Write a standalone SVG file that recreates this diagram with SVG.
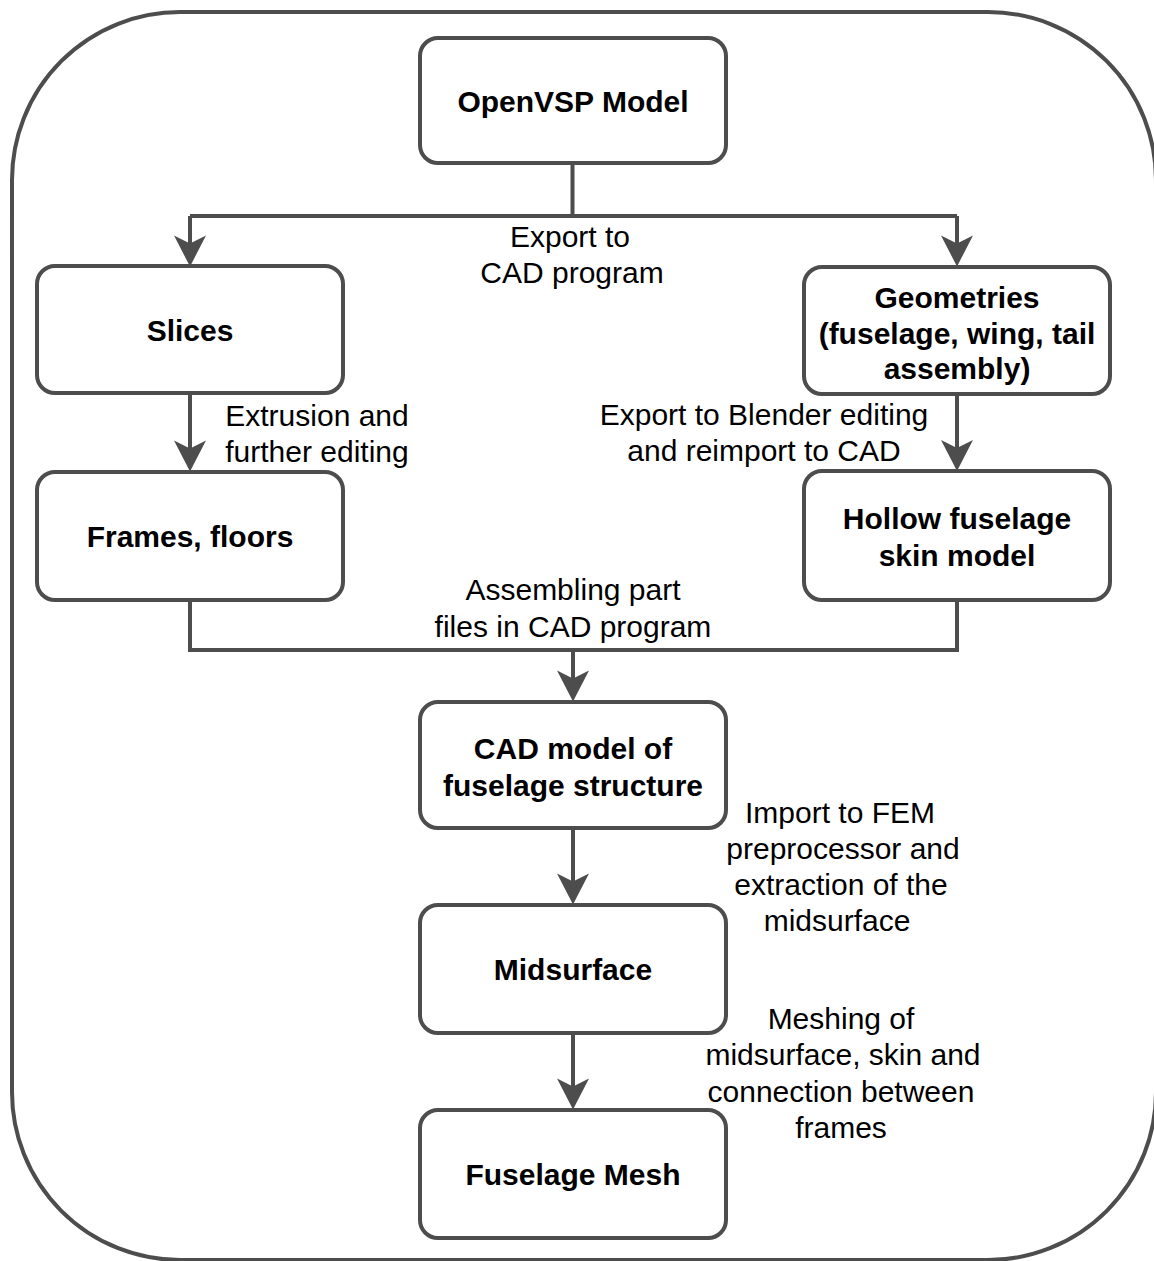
<svg xmlns="http://www.w3.org/2000/svg" xmlns:xlink="http://www.w3.org/1999/xlink" width="1154" height="1261" viewBox="0 0 1154 1261">
<style>
.frame{fill:none;stroke:#4d4d4d;stroke-width:4}
.box{fill:#ffffff;stroke:#4d4d4d;stroke-width:4}
.line{fill:none;stroke:#4d4d4d;stroke-width:4}
.head{fill:#4d4d4d;stroke:none}
.t{font-family:"Liberation Sans",Arial,Helvetica,sans-serif;font-size:30px;fill:#000000;text-anchor:middle}
.b{font-weight:bold}
</style>
<defs>
<path id="ah" class="head" d="M0,0 L-16,-31 L0,-23 L16,-31 Z"/>
</defs>
<rect width="1154" height="1261" fill="#ffffff"/>
<rect class="frame" x="12" y="12" width="1144" height="1248" rx="168" ry="168"/>

<g id="connectors">
<path class="line" d="M572.5,163 V216 M190,216 H957 M190,216 V244 M957,216 V244"/>
<use xlink:href="#ah" href="#ah" transform="translate(190,266.5)"/>
<use xlink:href="#ah" href="#ah" transform="translate(957,266.5)"/>
<path class="line" d="M190,393 V449"/>
<use xlink:href="#ah" href="#ah" transform="translate(190,471.5)"/>
<path class="line" d="M957,394 V449"/>
<use xlink:href="#ah" href="#ah" transform="translate(957,471)"/>
<path class="line" d="M190,600 V650 H957 V600 M573,650 V679"/>
<use xlink:href="#ah" href="#ah" transform="translate(573,701.5)"/>
<path class="line" d="M573,828 V882"/>
<use xlink:href="#ah" href="#ah" transform="translate(573,904.5)"/>
<path class="line" d="M573,1033 V1087"/>
<use xlink:href="#ah" href="#ah" transform="translate(573,1109.5)"/>
<text class="t" x="570" y="247">Export to</text>
<text class="t" x="572" y="283">CAD program</text>
<text class="t" x="317" y="426">Extrusion and</text>
<text class="t" x="317" y="462">further editing</text>
<text class="t" x="764" y="425">Export to Blender editing</text>
<text class="t" x="764" y="461">and reimport to CAD</text>
<text class="t" x="573" y="600">Assembling part</text>
<text class="t" x="573" y="637">files in CAD program</text>
<text class="t" x="840" y="823">Import to FEM</text>
<text class="t" x="843" y="859">preprocessor and</text>
<text class="t" x="841" y="895">extraction of the</text>
<text class="t" x="837" y="931">midsurface</text>
<text class="t" x="841" y="1029">Meshing of</text>
<text class="t" x="843" y="1065">midsurface, skin and</text>
<text class="t" x="841" y="1102">connection between</text>
<text class="t" x="841" y="1138">frames</text>
</g>

<g id="node-openvsp">
<rect class="box" x="420" y="38" width="306" height="125" rx="18" ry="18"/>
<text class="t b" x="573" y="112">OpenVSP Model</text>
</g>
<g id="node-slices">
<rect class="box" x="37" y="266" width="306" height="127" rx="18" ry="18"/>
<text class="t b" x="190" y="341">Slices</text>
</g>
<g id="node-geometries">
<rect class="box" x="804" y="267" width="306" height="127" rx="18" ry="18"/>
<text class="t b" x="957" y="308">Geometries</text>
<text class="t b" x="957" y="344">(fuselage, wing, tail</text>
<text class="t b" x="957" y="379">assembly)</text>
</g>
<g id="node-frames">
<rect class="box" x="37" y="472" width="306" height="128" rx="18" ry="18"/>
<text class="t b" x="190" y="547">Frames, floors</text>
</g>
<g id="node-hollow">
<rect class="box" x="804" y="471" width="306" height="129" rx="18" ry="18"/>
<text class="t b" x="957" y="529">Hollow fuselage</text>
<text class="t b" x="957" y="566">skin model</text>
</g>
<g id="node-cad">
<rect class="box" x="420" y="702" width="306" height="126" rx="18" ry="18"/>
<text class="t b" x="573" y="759">CAD model of</text>
<text class="t b" x="573" y="796">fuselage structure</text>
</g>
<g id="node-midsurface">
<rect class="box" x="420" y="905" width="306" height="128" rx="18" ry="18"/>
<text class="t b" x="573" y="980">Midsurface</text>
</g>
<g id="node-mesh">
<rect class="box" x="420" y="1110" width="306" height="128" rx="18" ry="18"/>
<text class="t b" x="573" y="1185">Fuselage Mesh</text>
</g>
</svg>
